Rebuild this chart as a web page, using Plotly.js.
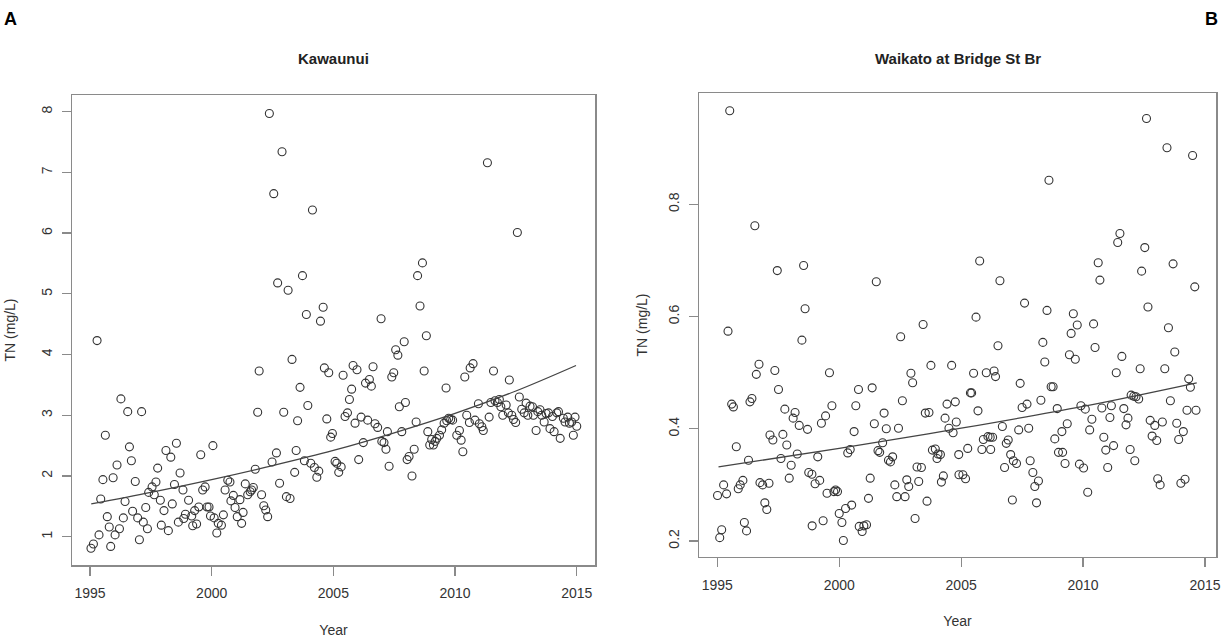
<!DOCTYPE html>
<html>
<head>
<meta charset="utf-8">
<script src="https://cdn.plot.ly/plotly-3.0.1.min.js"></script>
<style>html,body{margin:0;padding:0;background:#fff;}#chart{width:1223px;height:638px;}</style>
</head>
<body>
<div id="chart"></div>
<script>
// ---------- Panel A: Kawaunui ----------
const aYear = [1995.04,1995.14,1995.29,1995.37,1995.44,1995.53,1995.63,1995.71,1995.79,1995.85,1995.95,1996.03,1996.11,1996.21,1996.27,1996.37,1996.44,1996.55,1996.62,1996.70,1996.75,1996.86,1996.96,1997.03,1997.12,1997.19,1997.29,1997.36,1997.41,1997.55,1997.64,1997.71,1997.78,1997.89,1997.93,1998.04,1998.12,1998.22,1998.32,1998.38,1998.47,1998.55,1998.63,1998.70,1998.82,1998.85,1998.92,1999.05,1999.18,1999.22,1999.30,1999.38,1999.47,1999.55,1999.63,1999.73,1999.81,1999.89,1999.95,2000.05,2000.10,2000.21,2000.27,2000.40,2000.48,2000.55,2000.66,2000.75,2000.79,2000.89,2000.96,2001.05,2001.16,2001.23,2001.29,2001.38,2001.48,2001.58,2001.64,2001.71,2001.79,2001.89,2001.95,2002.05,2002.14,2002.22,2002.30,2002.37,2002.48,2002.55,2002.66,2002.71,2002.79,2002.89,2002.96,2003.07,2003.14,2003.22,2003.30,2003.41,2003.47,2003.53,2003.63,2003.73,2003.81,2003.89,2003.95,2004.07,2004.14,2004.22,2004.32,2004.40,2004.47,2004.58,2004.63,2004.73,2004.81,2004.89,2004.96,2005.07,2005.14,2005.22,2005.32,2005.40,2005.48,2005.58,2005.66,2005.75,2005.81,2005.89,2005.97,2006.04,2006.14,2006.23,2006.32,2006.41,2006.48,2006.56,2006.63,2006.71,2006.82,2006.96,2006.99,2007.08,2007.16,2007.22,2007.29,2007.40,2007.48,2007.56,2007.65,2007.71,2007.81,2007.91,2007.96,2008.03,2008.11,2008.23,2008.32,2008.40,2008.46,2008.56,2008.66,2008.73,2008.82,2008.88,2008.96,2009.04,2009.11,2009.18,2009.25,2009.36,2009.45,2009.55,2009.63,2009.66,2009.74,2009.82,2009.90,2010.07,2010.18,2010.25,2010.32,2010.40,2010.48,2010.59,2010.62,2010.74,2010.82,2010.96,2011.00,2011.10,2011.16,2011.33,2011.40,2011.47,2011.58,2011.64,2011.74,2011.82,2011.88,2011.96,2012.10,2012.19,2012.23,2012.33,2012.40,2012.49,2012.56,2012.64,2012.74,2012.84,2012.92,2012.99,2013.08,2013.18,2013.22,2013.33,2013.40,2013.49,2013.56,2013.66,2013.74,2013.84,2013.90,2014.00,2014.07,2014.18,2014.25,2014.32,2014.45,2014.52,2014.63,2014.70,2014.79,2014.86,2014.93,2015.00];
const aTN = [0.81,0.88,4.23,1.03,1.62,1.94,2.67,1.33,1.16,0.84,1.97,1.03,2.18,1.13,3.27,1.31,1.58,3.06,2.48,2.25,1.42,1.91,1.31,0.95,3.06,1.24,1.48,1.13,1.73,1.82,1.69,1.90,2.13,1.60,1.19,1.43,2.42,1.10,2.31,1.54,1.86,2.54,1.24,2.05,1.77,1.30,1.37,1.60,1.34,1.18,1.43,1.21,1.49,2.35,1.77,1.82,1.49,1.49,1.34,2.50,1.31,1.06,1.22,1.19,1.36,1.77,1.93,1.90,1.59,1.68,1.48,1.33,1.61,1.22,1.40,1.87,1.69,1.74,1.77,1.81,2.11,3.05,3.73,1.69,1.51,1.44,1.33,7.97,2.23,6.65,2.38,5.18,1.88,7.34,3.05,1.66,5.06,1.63,3.92,2.06,2.42,2.91,3.46,5.30,2.25,4.66,3.16,2.21,6.38,2.14,1.98,2.08,4.55,4.78,3.78,2.94,3.70,2.64,2.70,2.24,2.21,2.06,2.15,3.66,2.98,3.04,3.26,3.43,3.82,2.87,3.75,2.27,2.97,2.55,3.53,2.92,3.59,3.48,3.80,2.86,2.80,4.59,2.57,2.55,2.44,2.73,2.16,3.63,3.70,4.08,3.99,3.14,2.73,4.21,3.21,2.27,2.32,2.00,2.44,2.89,5.30,4.80,5.51,3.73,4.31,2.73,2.51,2.60,2.51,2.57,2.62,2.67,2.76,2.87,3.45,2.91,2.95,2.93,2.92,2.67,2.75,2.59,2.40,3.63,3.00,2.88,3.78,3.85,2.92,3.19,2.86,2.81,2.75,7.16,2.97,3.21,3.73,3.24,3.21,3.26,3.14,3.00,3.17,3.04,3.58,3.00,2.93,2.88,6.01,3.30,3.10,3.04,3.20,3.00,3.15,3.14,3.00,2.75,3.06,3.09,3.00,2.89,3.03,3.04,2.78,2.98,2.73,3.04,3.06,2.62,2.95,2.89,2.97,2.87,2.89,2.67,2.97,2.82];
const aTrendYear = [1995.05,1997.5,2000,2002.5,2005,2007.5,2010,2012.5,2014.97];
const aTrendTN   = [1.54,1.73,1.94,2.17,2.42,2.71,3.03,3.40,3.82];
const aYTicks = [1,2,3,4,5,6,7,8];

// ---------- Panel B: Waikato at Bridge St Br ----------
const bYear = [1995.01,1995.10,1995.18,1995.26,1995.38,1995.44,1995.51,1995.59,1995.66,1995.78,1995.86,1995.94,1996.05,1996.11,1996.20,1996.28,1996.34,1996.42,1996.54,1996.60,1996.71,1996.75,1996.86,1996.95,1997.03,1997.12,1997.16,1997.28,1997.36,1997.46,1997.51,1997.61,1997.69,1997.77,1997.85,1997.95,1998.03,1998.11,1998.19,1998.28,1998.36,1998.47,1998.54,1998.60,1998.70,1998.75,1998.88,1998.89,1999.01,1999.12,1999.20,1999.27,1999.34,1999.44,1999.50,1999.60,1999.70,1999.78,1999.85,1999.93,2000.00,2000.11,2000.17,2000.26,2000.35,2000.45,2000.51,2000.61,2000.68,2000.79,2000.82,2000.94,2001.01,2001.12,2001.20,2001.27,2001.35,2001.44,2001.52,2001.59,2001.66,2001.78,2001.84,2001.93,2002.02,2002.10,2002.19,2002.28,2002.36,2002.43,2002.52,2002.59,2002.70,2002.77,2002.85,2002.94,2003.01,2003.11,2003.19,2003.26,2003.37,2003.44,2003.53,2003.60,2003.68,2003.76,2003.82,2003.94,2004.01,2004.05,2004.15,2004.19,2004.27,2004.34,2004.42,2004.50,2004.61,2004.67,2004.76,2004.80,2004.90,2004.91,2005.07,2005.18,2005.27,2005.38,2005.43,2005.51,2005.61,2005.69,2005.76,2005.85,2005.91,2006.03,2006.10,2006.19,2006.21,2006.29,2006.35,2006.41,2006.51,2006.59,2006.69,2006.78,2006.85,2006.93,2007.03,2007.10,2007.14,2007.27,2007.36,2007.42,2007.50,2007.60,2007.70,2007.77,2007.83,2007.94,2008.02,2008.09,2008.17,2008.27,2008.35,2008.43,2008.52,2008.60,2008.69,2008.77,2008.84,2008.94,2008.99,2009.13,2009.16,2009.26,2009.35,2009.44,2009.51,2009.60,2009.68,2009.76,2009.85,2009.91,2010.02,2010.09,2010.19,2010.27,2010.36,2010.43,2010.49,2010.62,2010.69,2010.77,2010.85,2010.93,2011.01,2011.10,2011.16,2011.25,2011.36,2011.42,2011.51,2011.59,2011.67,2011.76,2011.84,2011.93,2011.97,2012.08,2012.12,2012.17,2012.28,2012.34,2012.40,2012.53,2012.60,2012.66,2012.75,2012.83,2012.94,2013.02,2013.06,2013.16,2013.25,2013.35,2013.44,2013.50,2013.58,2013.69,2013.76,2013.84,2013.92,2014.01,2014.11,2014.18,2014.26,2014.33,2014.40,2014.49,2014.58,2014.63];
const bTN = [0.281,0.206,0.220,0.300,0.284,0.574,0.967,0.444,0.439,0.368,0.293,0.300,0.308,0.233,0.218,0.344,0.448,0.454,0.762,0.497,0.515,0.304,0.300,0.268,0.256,0.303,0.389,0.380,0.504,0.682,0.470,0.347,0.390,0.435,0.371,0.312,0.335,0.419,0.429,0.355,0.406,0.558,0.691,0.614,0.399,0.322,0.319,0.227,0.302,0.350,0.308,0.410,0.236,0.423,0.285,0.500,0.441,0.288,0.291,0.288,0.249,0.233,0.201,0.258,0.357,0.363,0.264,0.395,0.441,0.470,0.226,0.217,0.227,0.229,0.276,0.312,0.473,0.409,0.662,0.361,0.358,0.375,0.428,0.400,0.344,0.341,0.350,0.300,0.279,0.401,0.564,0.450,0.279,0.309,0.297,0.499,0.482,0.240,0.332,0.306,0.331,0.586,0.428,0.271,0.429,0.513,0.362,0.364,0.347,0.355,0.354,0.305,0.316,0.419,0.444,0.401,0.513,0.393,0.448,0.412,0.354,0.318,0.318,0.311,0.365,0.464,0.464,0.499,0.599,0.432,0.699,0.363,0.381,0.500,0.386,0.385,0.363,0.385,0.503,0.493,0.548,0.664,0.404,0.331,0.374,0.380,0.354,0.273,0.343,0.338,0.398,0.481,0.438,0.624,0.444,0.401,0.343,0.322,0.297,0.268,0.307,0.451,0.554,0.519,0.611,0.843,0.475,0.475,0.382,0.436,0.358,0.395,0.358,0.338,0.409,0.532,0.570,0.605,0.524,0.585,0.337,0.441,0.330,0.435,0.287,0.398,0.417,0.587,0.545,0.696,0.665,0.437,0.385,0.362,0.331,0.420,0.441,0.370,0.500,0.732,0.748,0.529,0.436,0.407,0.419,0.363,0.460,0.458,0.343,0.457,0.453,0.507,0.681,0.723,0.953,0.617,0.415,0.387,0.406,0.379,0.311,0.300,0.412,0.507,0.901,0.580,0.450,0.694,0.537,0.410,0.381,0.303,0.395,0.310,0.433,0.489,0.474,0.887,0.653,0.433];
const bTrendYear = [1995.05,2000,2005,2010,2014.66];
const bTrendTN   = [0.332,0.365,0.401,0.440,0.482];
const bYTicks = [0.2,0.4,0.6,0.8];
const bYTickText = ['0.2','0.4','0.6','0.8'];

const xTicks = [1995,2000,2005,2010,2015];
const panelTitles = ['Kawaunui','Waikato at Bridge St Br'];
const panelLetters = ['A','B'];
const xTitle = 'Year';
const yTitle = 'TN (mg/L)';

// ---------- drawing ----------
const W = 1223, H = 638;
const FONT = 'Liberation Sans, Arial, Helvetica, sans-serif';
const markerStyle = {symbol:'circle-open', size:8, color:'#333', line:{width:1.1, color:'#333'}};
const lineStyle = {color:'#444', width:1.3, shape:'spline'};

const traces = [
  {x:aYear, y:aTN, type:'scatter', mode:'markers', marker:markerStyle, xaxis:'x', yaxis:'y', hoverinfo:'x+y'},
  {x:aTrendYear, y:aTrendTN, type:'scatter', mode:'lines', line:lineStyle, xaxis:'x', yaxis:'y', hoverinfo:'skip'},
  {x:bYear, y:bTN, type:'scatter', mode:'markers', marker:markerStyle, xaxis:'x2', yaxis:'y2', hoverinfo:'x+y'},
  {x:bTrendYear, y:bTrendTN, type:'scatter', mode:'lines', line:lineStyle, xaxis:'x2', yaxis:'y2', hoverinfo:'skip'}
];

// plot-box pixel positions (left, right, top, bottom)
const boxA = [72, 595, 95, 565];
const boxB = [699, 1216, 93.3, 556.7];
const px = v => v / W, py = v => 1 - v / H;

const axisCommon = {
  showgrid:false, zeroline:false, showline:true, mirror:true,
  linecolor:'#8a8a8a', linewidth:1.5,
  ticks:'outside', ticklen:9, tickwidth:1.3, tickcolor:'#8a8a8a',
  tickfont:{family:FONT, size:14, color:'#333'}
};

const layout = {
  width:W, height:H, margin:{l:0, r:0, t:0, b:0},
  paper_bgcolor:'#fff', plot_bgcolor:'#fff', showlegend:false,
  font:{family:FONT, color:'#333'},
  xaxis:Object.assign({}, axisCommon, {
    domain:[px(boxA[0]), px(boxA[1])], range:[1994.26, 2015.75], anchor:'y',
    tickmode:'array', tickvals:xTicks, ticklabelstandoff:6,
    title:{text:xTitle, font:{family:FONT, size:14, color:'#333'}, standoff:26}
  }),
  yaxis:Object.assign({}, axisCommon, {
    domain:[py(boxA[3]), py(boxA[2])], range:[0.534, 8.275], anchor:'x',
    tickmode:'array', tickvals:aYTicks, tickangle:-90, ticklabelstandoff:4,
    title:{text:yTitle, font:{family:FONT, size:14, color:'#333'}, standoff:20}
  }),
  xaxis2:Object.assign({}, axisCommon, {
    domain:[px(boxB[0]), px(boxB[1])], range:[1994.25, 2015.45], anchor:'y2',
    tickmode:'array', tickvals:xTicks, ticklabelstandoff:6,
    title:{text:xTitle, font:{family:FONT, size:14, color:'#333'}, standoff:24}
  }),
  yaxis2:Object.assign({}, axisCommon, {
    domain:[py(boxB[3]), py(boxB[2])], range:[0.172, 0.998], anchor:'x2',
    tickmode:'array', tickvals:bYTicks, ticktext:bYTickText, tickangle:-90, ticklabelstandoff:4,
    title:{text:yTitle, font:{family:FONT, size:14, color:'#333'}, standoff:15}
  }),
  annotations:[
    {text:'<b>'+panelTitles[0]+'</b>', xref:'paper', yref:'paper', x:px((boxA[0]+boxA[1])/2), y:py(59), xanchor:'center', yanchor:'middle', showarrow:false, font:{family:FONT, size:15, color:'#222'}},
    {text:'<b>'+panelTitles[1]+'</b>', xref:'paper', yref:'paper', x:px((boxB[0]+boxB[1])/2), y:py(59), xanchor:'center', yanchor:'middle', showarrow:false, font:{family:FONT, size:15, color:'#222'}},
    {text:'<b>'+panelLetters[0]+'</b>', xref:'paper', yref:'paper', x:px(2), y:py(19), xanchor:'left', yanchor:'middle', showarrow:false, font:{family:FONT, size:18, color:'#000'}},
    {text:'<b>'+panelLetters[1]+'</b>', xref:'paper', yref:'paper', x:px(1220), y:py(19), xanchor:'right', yanchor:'middle', showarrow:false, font:{family:FONT, size:18, color:'#000'}}
  ]
};

Plotly.newPlot('chart', traces, layout, {displayModeBar:false, staticPlot:true});
</script>
</body>
</html>
